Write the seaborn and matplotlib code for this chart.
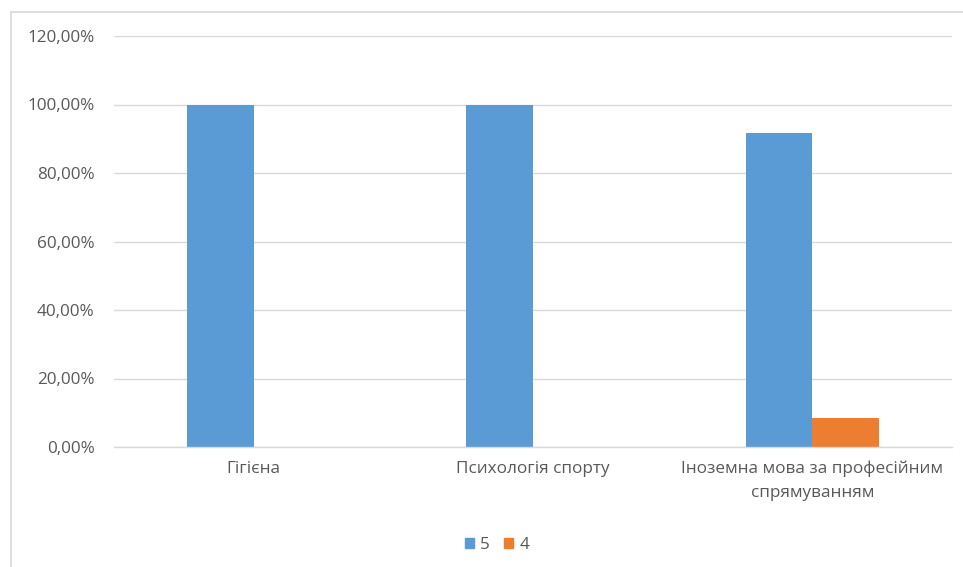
import matplotlib
matplotlib.use("Agg")
import matplotlib.pyplot as plt
import matplotlib.ticker as mticker
from matplotlib.lines import Line2D
from matplotlib.patches import Rectangle
import seaborn as sns
import pandas as pd

categories = ["Гігієна", "Психологія спорту", "Іноземна мова за професійним\nспрямуванням"]
grade_5 = [1.0, 1.0, 0.9167]
grade_4 = [0.0, 0.0, 0.0833]
series_names = ["5", "4"]
y_ticks = [0.0, 0.2, 0.4, 0.6, 0.8, 1.0, 1.2]

sns.set_theme(style="white")
plt.rcParams["font.family"] = ["Open Sans", "DejaVu Sans"]

df = pd.DataFrame({
    "category": categories * 2,
    "value": grade_5 + grade_4,
    "series": [series_names[0]] * 3 + [series_names[1]] * 3,
})

W, H = 963, 567
fig = plt.figure(figsize=(W / 100, H / 100), dpi=100)
fig.patch.set_facecolor("white")

ax = fig.add_axes([114 / W, 1 - 447 / H, (952 - 114) / W, (447 - 36) / H])
colors = {"5": "#5b9bd5", "4": "#ed7d31"}
sns.barplot(data=df, x="category", y="value", hue="series", palette=colors,
            width=0.477, ax=ax, legend=False, saturation=1, linewidth=0)

ax.set_ylim(0, 1.2)
ax.set_xlim(-0.5, 2.5)
ax.set_yticks(y_ticks)
ax.yaxis.set_major_formatter(mticker.FuncFormatter(
    lambda v, p: f"{v * 100:.2f}".replace(".", ",") + "%"))
ax.grid(axis="y", color="#d9d9d9", linewidth=1)
ax.set_axisbelow(True)
for s in ["top", "right", "left"]:
    ax.spines[s].set_visible(False)
ax.spines["bottom"].set_color("#d9d9d9")
ax.spines["bottom"].set_linewidth(1)
ax.set_xlabel("")
ax.set_ylabel("")
ax.tick_params(axis="y", length=0, pad=14, labelsize=12.3, labelcolor="#595959")
ax.tick_params(axis="x", length=0, pad=10, labelsize=12.3, labelcolor="#595959")
for lbl in ax.get_xticklabels():
    lbl.set_linespacing(1.6)

# legend
handles = [Rectangle((0, 0), 1, 1, color=colors[s]) for s in series_names]
fig.legend(handles, series_names, loc="center", bbox_to_anchor=(497 / W, 1 - 545 / H),
           ncol=2, frameon=False, fontsize=12.3, handlelength=0.55, handleheight=0.55,
           handletextpad=0.35, columnspacing=0.8, labelcolor="#595959")

# chart border
fig.add_artist(Line2D([11 / W, 11 / W], [0, 1 - 12 / H], transform=fig.transFigure,
                      color="#d9d9d9", linewidth=1.2))
fig.add_artist(Line2D([11 / W, 1], [1 - 12 / H, 1 - 12 / H], transform=fig.transFigure,
                      color="#d9d9d9", linewidth=1.2))

fig.savefig("out.png", dpi=100)
